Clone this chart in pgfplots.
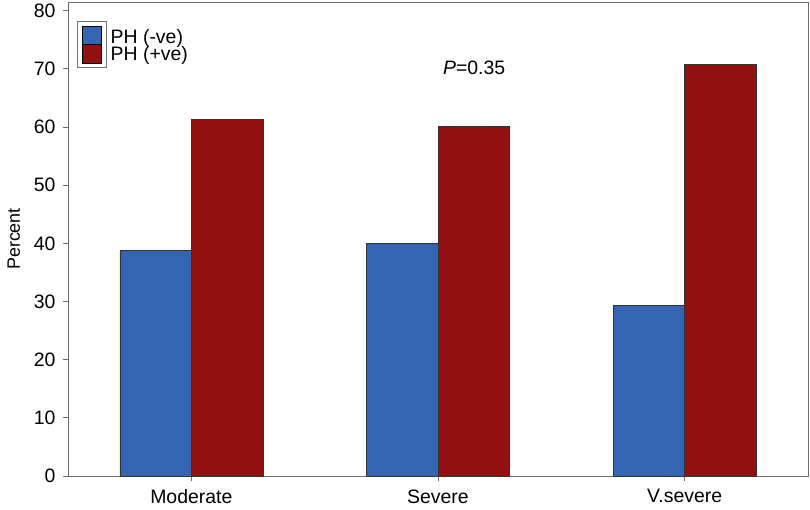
\documentclass[border=0pt]{standalone}
\usepackage{pgfplots}
\pgfplotsset{compat=1.18}
\usepackage{fontspec}
\setmainfont{Liberation Sans}
\definecolor{phneg}{RGB}{52,101,178}
\definecolor{phpos}{RGB}{146,16,16}
\definecolor{framegray}{RGB}{110,110,110}

\begin{document}
\begin{tikzpicture}
\begin{axis}[
  scale only axis,
  width=740bp,
  height=474bp,
  ybar=0pt,
  bar width=0.29,
  xmin=-0.5, xmax=2.5,
  ymin=0, ymax=81.5,
  xtick={0,1,2},
  xticklabels={Moderate,Severe,V.severe},
  ytick={0,10,...,80},
  tick align=outside,
  tick pos=left,
  major tick length=5bp,
  tick style={framegray, line width=0.8pt},
  axis line style={framegray, line width=0.8pt},
  ylabel={Percent},
  ylabel style={font=\fontsize{18}{21}\selectfont, yshift=7bp},
  tick label style={font=\fontsize{19.5}{23}\selectfont},
  /pgf/number format/assume math mode=true,
  xticklabel style={yshift=-5bp},
  yticklabel style={xshift=-4bp},
  legend style={draw=none, fill=none, at={(rel axis cs:0.0189,0.949)}, anchor=north west,
    font=\fontsize{19.5}{23}\selectfont, inner sep=0pt,
    nodes={inner sep=0pt, text height=13bp, text depth=4bp},
    column sep=9bp, row sep=-3bp},
  legend cell align=left,
  legend image code/.code={\draw[#1, draw=black, line width=0.5pt] (0bp,-6.5bp) rectangle (19bp,12bp);},
  clip=false,
]
\addplot[fill=phneg, draw=black!80, line width=0.6pt] coordinates {(0,38.8) (1,40.0) (2,29.3)};
\addplot[fill=phpos, draw=black!80, line width=0.6pt] coordinates {(0,61.3) (1,60.1) (2,70.8)};
\legend{PH (-ve), PH (+ve)}
\draw[framegray, line width=0.8pt] (rel axis cs:0.0122,0.960) rectangle (rel axis cs:0.0514,0.861);
\node[anchor=west, inner sep=0pt, font=\fontsize{19.5}{23}\selectfont] at (axis cs:1.02,70.1) {\textit{P}=0.35};
\path (rel axis cs:0,0) ++(-68bp,-34bp) (rel axis cs:1,1) ++(2bp,2bp);
\end{axis}
\end{tikzpicture}
\end{document}
